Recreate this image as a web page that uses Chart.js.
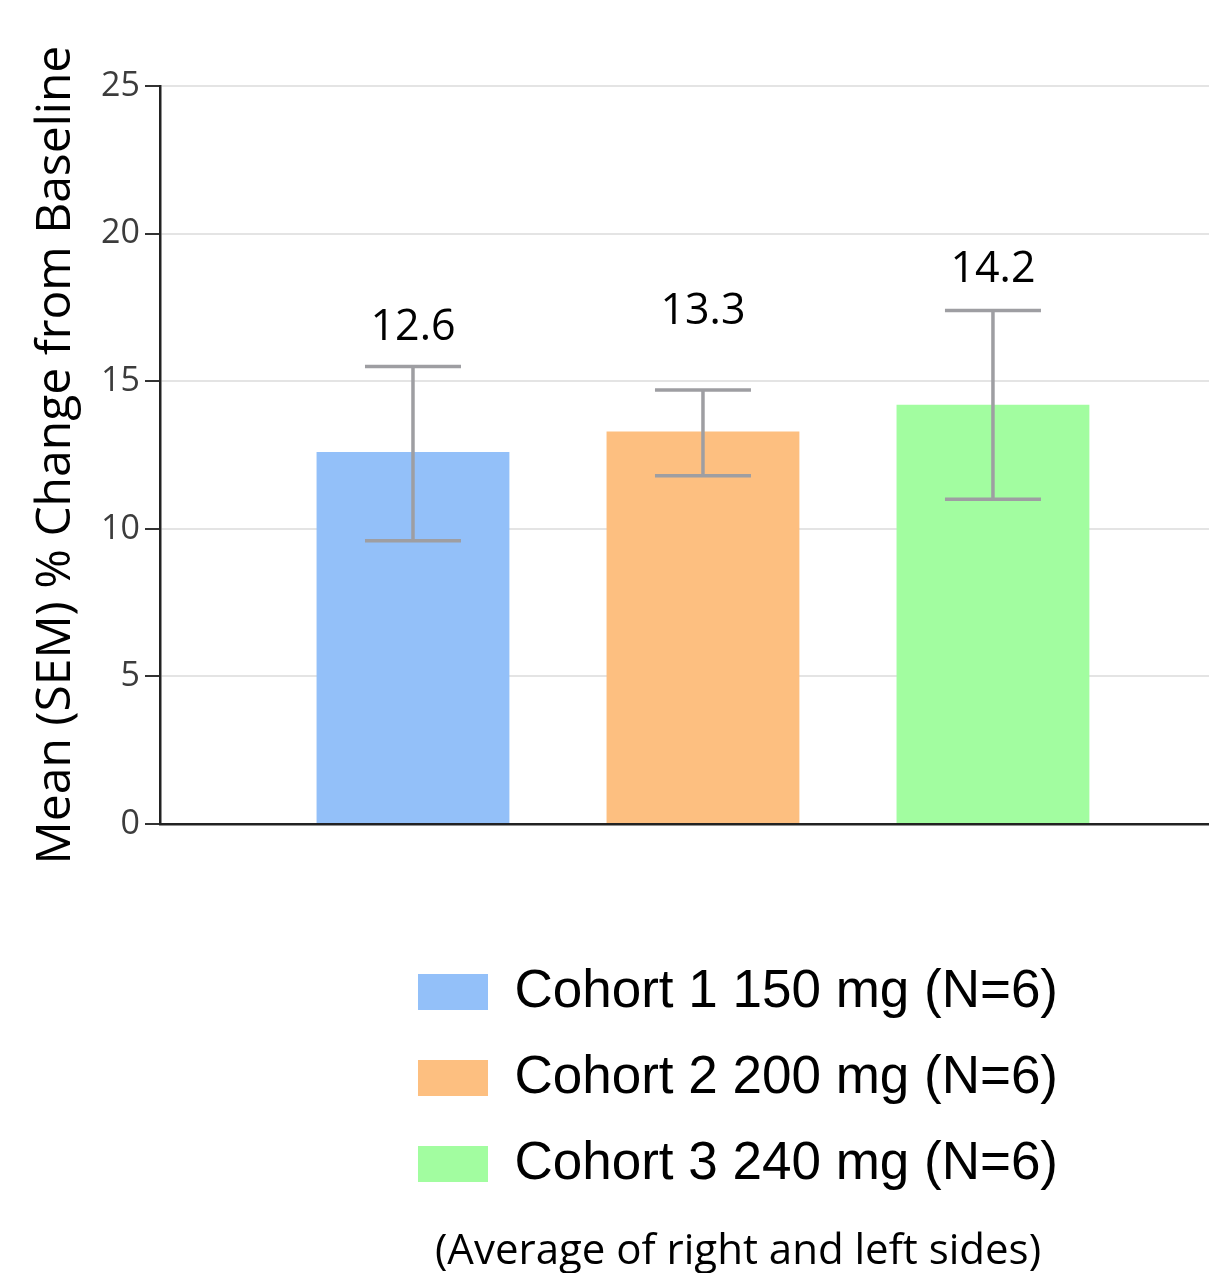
<!DOCTYPE html>
<html>
<head>
<meta charset="utf-8">
<title>Mean (SEM) % Change from Baseline</title>
<script src="https://cdn.jsdelivr.net/npm/chart.js@4/dist/chart.umd.min.js"></script>
<style>
  html, body { margin: 0; padding: 0; background: #fff; overflow: hidden; }
  #wrap { width: 1316px; height: 1277px; }
</style>
</head>
<body>
<div id="wrap"><canvas id="chartCohorts" width="1316" height="1277"></canvas></div>
<script>
/* ================================================================
   Cohort bar chart · mean % change with SEM error bars
   ================================================================ */

// ============= DATA =============
const cohortLabels = ['Cohort 1 150 mg (N=6)', 'Cohort 2 200 mg (N=6)', 'Cohort 3 240 mg (N=6)'];
const cohortSlots = [1, 2, 3];
const meanChange = [12.6, 13.3, 14.2];
const semLow = [9.6, 11.8, 11.0];
const semHigh = [15.5, 14.7, 17.4];
const barColors = ['#93c0f9', '#fdbf80', '#a2fda0'];
const yTicks = [0, 5, 10, 15, 20, 25];

// ============= ERROR BARS + VALUE LABELS =============
const errorBars = {
  id: 'errorBars',
  afterDatasetsDraw: function(chart, args, opts) {
    const ctx = chart.ctx;
    const x = chart.scales.x;
    const y = chart.scales.y;
    ctx.save();
    ctx.strokeStyle = '#9e9ea2';
    ctx.lineWidth = 3.5;
    cohortSlots.forEach(function(slot, i) {
      const px = x.getPixelForValue(slot);
      const top = y.getPixelForValue(semHigh[i]);
      const bot = y.getPixelForValue(semLow[i]);
      ctx.beginPath();
      ctx.moveTo(px, top); ctx.lineTo(px, bot);
      ctx.moveTo(px - 48, top); ctx.lineTo(px + 48, top);
      ctx.moveTo(px - 48, bot); ctx.lineTo(px + 48, bot);
      ctx.stroke();

      // value label sits above the upper cap (middle one is lifted higher in the original)
      ctx.fillStyle = '#000';
      ctx.font = '43px "Open Sans"';
      ctx.textAlign = 'center';
      ctx.textBaseline = 'alphabetic';
      ctx.fillText(meanChange[i].toFixed(1), px, top - opts.labelGap[i]);
    });
    ctx.restore();
  }
};

// ============= CHART =============
new Chart(document.getElementById('chartCohorts'), {
  type: 'bar',
  data: {
    datasets: [{
      data: cohortSlots.map(function(s, i) { return { x: s, y: meanChange[i] }; }),
      backgroundColor: barColors,
      borderWidth: 0,
      categoryPercentage: 1,
      barPercentage: 0.665
    }]
  },
  options: {
    responsive: false,
    animation: false,
    layout: { padding: { top: 86, left: 0, right: 0, bottom: 0 } },
    plugins: {
      tooltip: { enabled: false },
      errorBars: { labelGap: [26, 66, 28] },
      legend: {
        position: 'bottom',
        fullSize: false,
        labels: {
          font: { family: '"Liberation Sans", Arial, sans-serif', size: 53 },
          color: '#1e1e1e',
          boxWidth: 70,
          boxHeight: 36,
          padding: 33,
          generateLabels: function() {
            return cohortLabels.map(function(label, i) {
              return { text: label, fillStyle: barColors[i], strokeStyle: barColors[i], lineWidth: 0, hidden: false, index: i };
            });
          }
        }
      },
      title: {
        display: true,
        position: 'bottom',
        fullSize: false,
        text: '(Average of right and left sides)',
        color: '#000',
        font: { family: '"Open Sans"', size: 42, weight: 'normal' },
        padding: { top: 26, bottom: 0 }
      }
    },
    scales: {
      x: {
        type: 'linear',
        offset: false,
        min: 0.1276,
        max: 4.114,
        afterBuildTicks: function(scale) {
          scale.ticks = cohortSlots.map(function(v) { return { value: v }; });
        },
        grid: { display: false, offset: false },
        ticks: { display: false },
        border: { display: true, color: '#222', width: 2.5 },
        afterFit: function(scale) { scale.height = 108.5; }
      },
      y: {
        min: 0,
        max: 25,
        afterBuildTicks: function(scale) {
          scale.ticks = yTicks.map(function(v) { return { value: v }; });
        },
        grid: { color: '#e4e4e4', lineWidth: 2, tickColor: '#333', tickLength: 15 },
        border: { display: true, color: '#222', width: 2.5 },
        ticks: {
          font: { family: '"Open Sans"', size: 34 },
          color: '#3c3c3c',
          padding: 5
        },
        title: {
          display: true,
          text: 'Mean (SEM) % Change from Baseline',
          color: '#000',
          font: { family: '"Open Sans"', size: 48 },
          padding: { top: 28, bottom: 0 }
        },
        afterFit: function(scale) { scale.width = 160; }
      }
    }
  },
  plugins: [errorBars]
});
</script>
</body>
</html>
